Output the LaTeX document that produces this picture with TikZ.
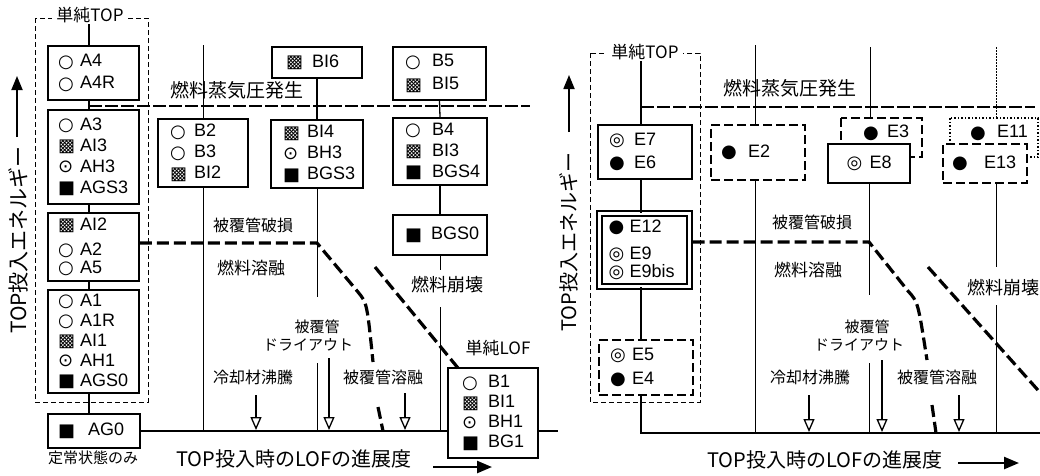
\documentclass[tikz,border=0pt]{standalone}
\usepackage{fontspec}
\setmainfont{Liberation Sans}
\newfontfamily\jp{Noto Sans CJK JP}
\newfontfamily\symf{DejaVu Sans}
\usetikzlibrary{arrows.meta,calc}
\newcommand\ent[3][22pt]{\makebox[#1][l]{\raisebox{-0.5pt}{\symf\fontsize{18}{18}\selectfont #2}}#3}
\begin{document}
\begin{tikzpicture}[x=1pt,y=-1pt,
  box/.style={draw, line width=1.5pt, fill=white, inner xsep=10pt, inner ysep=0pt, align=left},
  conn/.style={line width=1.3pt},
  vline/.style={line width=1pt},
  tdash/.style={line width=3.2pt, dash pattern=on 12pt off 5pt},
  vdash/.style={line width=2.8pt, dash pattern=on 13pt off 3pt},
  grp/.style={line width=1pt, dash pattern=on 5pt off 3pt},
  dbox/.style={line width=1.8pt, dash pattern=on 9pt off 4pt},
  dotbox/.style={line width=1.5pt, dash pattern=on 1.5pt off 2pt},
  lbl/.style={inner sep=1pt, font={\jp\fontsize{#1pt}{#1pt}\selectfont}},
  lbl/.default=17,
  dnarr/.style={line width=1.3pt, -{Triangle[open, length=13pt, width=11pt]}},
  bigarr/.style={line width=2.4pt, -{Triangle[length=15pt, width=12pt]}},
  uparr/.style={line width=1.8pt, -{Triangle[length=14pt, width=11pt]}},
  axis/.style={line width=2.2pt},
  f18/.style={font=\fontsize{18}{21}\selectfont},
]
\useasboundingbox (0,0) rectangle (1040,475);

% ================= LEFT PANEL =================
\coordinate (axL) at (0,431);
\coordinate (cL) at (89,0);

% y label
\node[lbl=21, rotate=90] (yL) at (18,240) {TOP投入エネルギー};
\coordinate (yLa) at (17,137);
\coordinate (yLb) at (17,76);
\draw[uparr] (yLa) -- (yLb);

% group box
\draw[grp] (35,18) rectangle (148,402);
\node[lbl, fill=white, inner xsep=4pt] (TL) at (90,15) {単純TOP};

% vapour line
\coordinate (vapL) at (89,106);
\coordinate (vapLe) at (530,106);

% thin vertical lines
\coordinate (v1t) at (203,45);
\coordinate (v2a) at (317,297);
\coordinate (v2b) at (317,363);
\coordinate (v3a) at (440,270);
\coordinate (v3b) at (440,307);

% boxes (A column)
\node[box, f18, minimum width=91pt, minimum height=54pt, text width=71pt, font=\fontsize{18}{22}\selectfont] (A4) at (93.5,73) {\ent{○}{A4}\\\ent{○}{A4R}};
\node[box, f18, minimum width=91pt, minimum height=94pt, text width=71pt] (A3) at (93.5,157) {\ent{○}{A3}\\\ent{▩}{AI3}\\\ent{⊙}{AH3}\\\ent{■}{AGS3}};
\node[box, f18, minimum width=91pt, minimum height=68pt, text width=71pt] (A2) at (93.5,247) {\ent{▩}{AI2}\\[4pt]\ent{○}{A2}\\[-3pt]\ent{○}{A5}};
\node[box, minimum width=91pt, minimum height=103pt, text width=71pt, font=\fontsize{18}{20}\selectfont] (A1) at (93.5,341.5) {\ent{○}{A1}\\\ent{○}{A1R}\\\ent{▩}{AI1}\\\ent{⊙}{AH1}\\\ent{■}{AGS0}};
\node[box, f18, minimum width=92pt, minimum height=34pt, text width=72pt] (AG0) at (94,431) {\ent[30pt]{■}{AG0}};
\node[lbl=15] (teijo) at (93,458) {定常状態のみ};

\draw[conn] (TL.south -| cL) -- (A4.north -| cL);
\draw[conn] (A4.south -| cL) -- (A3.north -| cL);
\draw[conn] (A3.south -| cL) -- (A2.north -| cL);
\draw[conn] (A2.south -| cL) -- (A1.north -| cL);
\draw[conn] (A1.south -| cL) -- (AG0.north -| cL);

% B boxes
\node[box, f18, minimum width=90pt, minimum height=68pt, text width=66pt, inner xsep=12pt] (B2) at (203,153) {\ent[24pt]{○}{B2}\\\ent[24pt]{○}{B3}\\\ent[24pt]{▩}{BI2}};
\node[box, f18, minimum width=90pt, minimum height=31pt, text width=62pt, inner xsep=14pt] (BI6) at (317,62.5) {\ent[26pt]{▩}{BI6}};
\node[box, f18, minimum width=92pt, minimum height=68pt, text width=68pt, inner xsep=12pt] (BI4) at (317,154) {\ent[24pt]{▩}{BI4}\\\ent[24pt]{⊙}{BH3}\\\ent[24pt]{■}{BGS3}};
\node[box, f18, minimum width=93pt, minimum height=53pt, text width=69pt, inner xsep=12pt, font=\fontsize{18}{23}\selectfont] (B5) at (439.5,73.5) {\ent[27pt]{○}{B5}\\\ent[27pt]{▩}{BI5}};
\node[box, f18, minimum width=94pt, minimum height=67pt, text width=70pt, inner xsep=12pt] (B4) at (440,151.5) {\ent[27pt]{○}{B4}\\\ent[27pt]{▩}{BI3}\\\ent[27pt]{■}{BGS4}};
\node[box, f18, minimum width=94pt, minimum height=40pt, text width=70pt, inner xsep=12pt] (BGS0) at (440,235) {\ent[26pt]{■}{BGS0}};
\node[box, minimum width=90pt, minimum height=90pt, text width=62pt, inner xsep=14pt, font=\fontsize{18}{20}\selectfont] (LOF) at (493,413) {\ent[26pt]{○}{B1}\\\ent[26pt]{▩}{BI1}\\\ent[26pt]{⊙}{BH1}\\\ent[26pt]{■}{BG1}};
\node[lbl] (tLOF) at (498,348) {単純LOF};

% vertical lines
\draw[vline] (v1t) -- (B2.north);
\draw[vline] (B2.south) -- (B2.south |- axL);
\draw[conn] (BI6.south) -- (BI4.north);
\draw[vline] (BI4.south) -- (v2a);
\draw[vline] (v2b) -- (v2b |- axL);
\draw[conn] (B5.south) -- (B4.north);
\draw[conn] (B4.south) -- (BGS0.north);
\draw[vline] (BGS0.south) -- (v3a);
\draw[vline] (v3b) -- (v3b |- axL);

% vapour dashed line
\draw[vdash] (vapL) -- (vapLe);

% cladding failure dashed line
\coordinate (hL0) at ($(A2.east)+(0,-4)$);
\coordinate (hL1) at (317,243);
\coordinate (hL2) at (358,292);
\coordinate (hL3) at (373,362);
\draw[tdash] (hL0) -- (hL1) -- (hL2) .. controls (367,303) .. (hL3);
\coordinate (hL4) at (378,407);
\coordinate (hL5) at (383,431);
\draw[tdash] (hL4) -- (hL5);
\coordinate (dL0) at (375,267);
\coordinate (dL1) at (458,368);
\draw[tdash] (dL0) -- (dL1);

% axis
\coordinate (stubL) at (558,431);
\draw[axis] (AG0.east) -- (AG0.east -| LOF.west);
\draw[conn] (LOF.east |- axL) -- (stubL);
\node[lbl=20] (axlabL) at (294,459) {TOP投入時のLOFの進展度};
\coordinate (axaL0) at (433,467);
\coordinate (axaL1) at (492,467);
\draw[bigarr] (axaL0) -- (axaL1);

% labels
\node[lbl=19] (vapLlab) at (237,90) {燃料蒸気圧発生};
\node[lbl=16] (hLlab) at (253,225) {被覆管破損};
\node[lbl] (mLlab) at (251,268) {燃料溶融};
\node[lbl=18] (cLlab) at (447,285) {燃料崩壊};
\node[lbl=15] (dr1L) at (317,327) {被覆管};
\node[lbl=15] (dr2L) at (308,345) {ドライアウト};
\node[lbl=16] (boilL) at (253,377) {冷却材沸騰};
\node[lbl=16] (cmL) at (383,377) {被覆管溶融};

% arrows
\coordinate (a1s) at (256,395); \coordinate (a1e) at (256,430);
\coordinate (a2s) at (329,358); \coordinate (a2e) at (329,430);
\coordinate (a3s) at (405,393); \coordinate (a3e) at (405,430);
\draw[dnarr] (a1s) -- (a1e);
\draw[dnarr] (a2s) -- (a2e);
\draw[dnarr] (a3s) -- (a3e);

% ================= RIGHT PANEL =================
\coordinate (axR) at (0,433);
\coordinate (cR) at (641,0);

\node[lbl=20, rotate=90] (yR) at (569,242) {TOP投入エネルギー};
\coordinate (yRa) at (569,132);
\coordinate (yRb) at (569,75);
\draw[uparr] (yRa) -- (yRb);

\draw[grp] (590,53) rectangle (700,402);
\node[lbl, fill=white, inner xsep=4pt] (TR) at (645,52) {単純TOP};

\coordinate (v5t) at (755,45);
\coordinate (v6t) at (870,47);
\coordinate (E3top) at (870,118);
\coordinate (v6a) at (869,295);
\coordinate (v6b) at (869,363);
\coordinate (v7t) at (996,47);
\coordinate (E11top) at (996,118);
\coordinate (v7a) at (996,267);
\coordinate (v7b) at (996,305);

\node[box, minimum width=94pt, minimum height=54pt, text width=72pt, inner xsep=11pt, font=\fontsize{18}{23}\selectfont] (E7) at (645,152) {\ent[25pt]{◎}{E7}\\\ent[25pt]{●}{E6}};
\node[box, double, double distance=3.8pt, line width=1.2pt, minimum width=90pt, minimum height=73pt, text width=72pt, inner xsep=9pt, f18] (E12) at (644.5,250) {\ent[21pt]{●}{E12}\\[6pt]\ent[21pt]{◎}{E9}\\[-3pt]\ent[21pt]{◎}{E9bis}};
\node[box, dbox, minimum width=94pt, minimum height=55pt, text width=72pt, inner xsep=11pt, font=\fontsize{18}{24}\selectfont] (E5) at (646,367.5) {\ent[22pt]{◎}{E5}\\\ent[22pt]{●}{E4}};
\node[box, dbox, minimum width=94pt, minimum height=55pt, text width=74pt, inner xsep=10pt, f18] (E2) at (758,152.5) {\ent[27pt]{●}{E2}};

% E3 (behind E8)
\draw[dbox] (841,118) rectangle (922,157);
\node[inner sep=0pt, anchor=west, f18] (E3) at (863,133) {\ent[24pt]{●}{E3}};
\node[box, align=center, minimum width=82pt, minimum height=39pt, f18] (E8) at (869,163.5) {\ent[23pt]{◎}{E8}};

% E11 (behind E13)
\draw[dotbox] (950,118) rectangle (1038,157);
\node[inner sep=0pt, anchor=west, f18] (E11) at (970,133) {\ent[27pt]{●}{E11}};
\node[box, dbox, minimum width=84pt, minimum height=39pt, text width=66pt, inner xsep=9pt, f18] (E13) at (985,163.5) {\ent[32pt]{●}{E13}};

% connectors right
\draw[conn] (TR.south -| cR) -- (E7.north -| cR);
\draw[conn] (E7.south -| cR) -- (E12.north -| cR);
\draw[conn] (E12.south -| cR) -- (E5.north -| cR);
\draw[axis] (E5.south -| cR) |- (1045,433);
\draw[vline] (v5t) -- (E2.north -| v5t);
\draw[vline] (E2.south -| v5t) -- (v5t |- axR);
\draw[vline] (v6t) -- (E3top);
\draw[vline] (E8.south) -- (v6a);
\draw[vline] (v6b) -- (v6b |- axR);
\draw[line width=0.8pt, dash pattern=on 2pt off 1pt] (v7t) -- (E11top);
\draw[vline] (E13.south -| v7t) -- (v7a);
\draw[vline] (v7b) -- (v7b |- axR);

% dashed lines right
\coordinate (vapR) at (641,107);
\coordinate (vapRe) at (1035,107);
\draw[vdash] (vapR) -- (vapRe);
\coordinate (hR0) at ($(E12.east)+(2.5,-8)$);
\coordinate (hR1) at (869,242);
\coordinate (hR2) at (908,291);
\coordinate (hR3) at (927,360);
\draw[tdash] (hR0) -- (hR1) -- (hR2) .. controls (918,302) .. (hR3);
\coordinate (hR4) at (932,405);
\coordinate (hR5) at (936,433);
\draw[tdash] (hR4) -- (hR5);
\coordinate (dR0) at (928,267);
\coordinate (dR1) at (1045,398);
\draw[tdash] (dR0) -- (dR1);

% labels right
\node[lbl=19] (vapRlab) at (790,88) {燃料蒸気圧発生};
\node[lbl=16] (hRlab) at (812,222) {被覆管破損};
\node[lbl] (mRlab) at (808,270) {燃料溶融};
\node[lbl=18] (cRlab) at (1003,288) {燃料崩壊};
\node[lbl=15] (dr1R) at (867,327) {被覆管};
\node[lbl=15] (dr2R) at (859,345) {ドライアウト};
\node[lbl=16] (boilR) at (810,377) {冷却材沸騰};
\node[lbl=16] (cmR) at (937,377) {被覆管溶融};
\node[lbl=20] (axlabR) at (825,460) {TOP投入時のLOFの進展度};
\coordinate (axaR0) at (958,463);
\coordinate (axaR1) at (1019,463);
\draw[bigarr] (axaR0) -- (axaR1);

\coordinate (b1s) at (809,395); \coordinate (b1e) at (809,432);
\coordinate (b2s) at (882,360); \coordinate (b2e) at (882,432);
\coordinate (b3s) at (959,395); \coordinate (b3e) at (959,432);
\draw[dnarr] (b1s) -- (b1e);
\draw[dnarr] (b2s) -- (b2e);
\draw[dnarr] (b3s) -- (b3e);
\end{tikzpicture}
\end{document}
